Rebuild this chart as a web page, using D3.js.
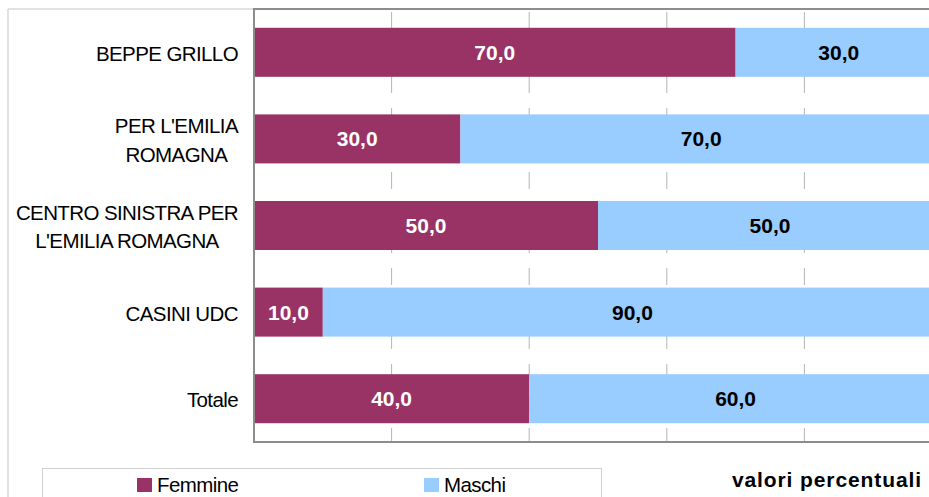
<!DOCTYPE html>
<html>
<head>
<meta charset="utf-8">
<script src="https://cdn.jsdelivr.net/npm/d3@7"></script>
<style>
  body { margin:0; background:#fff; }
  svg { display:block; font-family:"Liberation Sans", Arial, sans-serif; }
</style>
</head>
<body>
<script>
const categories = [
  ["BEPPE GRILLO"],
  ["PER L'EMILIA", "ROMAGNA"],
  ["CENTRO SINISTRA PER", "L'EMILIA ROMAGNA"],
  ["CASINI UDC"],
  ["Totale"]
];
const femmine = [70.0, 30.0, 50.0, 10.0, 40.0];
const maschi  = [30.0, 70.0, 50.0, 90.0, 60.0];
const gridTicks = [20, 40, 60, 80, 100];
const seriesNames = ["Femmine", "Maschi"];
const colors = ["#993366", "#99ccff"];

const w = 929, h = 497;
const svg = d3.select("body").append("svg")
  .attr("width", w).attr("height", h);

const keys = categories.map(d => d.join(" "));
const x = d3.scaleLinear().domain([0, 100]).range([254, 942]);
const y = d3.scaleBand().domain(keys).range([9, 442])
  .paddingInner(0.434).paddingOuter(0.217);

// outer chart frame
svg.append("path")
  .attr("d", "M8,497V9H929")
  .attr("fill", "none").attr("stroke", "#c4c4c4").attr("stroke-width", 1);

// gridlines
svg.selectAll("line.grid")
  .data(gridTicks)
  .enter()
  .append("line")
  .attr("class", "grid")
  .attr("x1", d => x(d)).attr("x2", d => x(d))
  .attr("y1", 9).attr("y2", 442)
  .attr("stroke", "#b4b4b4").attr("stroke-width", 1)
  .attr("stroke-dasharray", "17,15")
  .attr("stroke-dashoffset", 29);

// stacked bars
const rows = keys.map((k, i) => ({key: k, f: femmine[i], m: maschi[i]}));
const stack = d3.stack().keys(["f", "m"])(rows);

stack.forEach(function(layer, li) {
  svg.append("g").selectAll("rect")
    .data(layer)
    .enter()
    .append("rect")
    .attr("x", d => x(d[0]))
    .attr("width", d => x(d[1]) - x(d[0]))
    .attr("y", d => y(d.data.key))
    .attr("height", y.bandwidth())
    .attr("fill", colors[li]);

  svg.append("g").selectAll("text")
    .data(layer)
    .enter()
    .append("text")
    .attr("x", d => (x(d[0]) + x(d[1])) / 2)
    .attr("y", d => y(d.data.key) + y.bandwidth() / 2 + 7.5)
    .attr("text-anchor", "middle")
    .attr("font-size", "21px")
    .attr("font-weight", "bold")
    .attr("fill", li === 0 ? "#fff" : "#000")
    .text(d => d3.format(".1f")(d[1] - d[0]).replace(".", ","));
});

// plot frame
svg.append("path")
  .attr("d", "M929,9H254V442H929")
  .attr("fill", "none").attr("stroke", "#8c8c8c").attr("stroke-width", 2);

// category labels
const labels = svg.append("g").attr("font-size", "20.5px")
  .attr("letter-spacing", "-0.6px").attr("fill", "#000");
categories.forEach(function(lines, i) {
  const cy = y(keys[i]) + y.bandwidth() / 2;
  const g = labels.append("g");
  const txt = g.selectAll("text")
    .data(lines)
    .enter()
    .append("text")
    .attr("y", (d, j) => cy + 8.5 + (j - (lines.length - 1) / 2) * 28.5)
    .attr("text-anchor", "middle")
    .text(d => d);
  let maxW = 0;
  txt.each(function() { maxW = Math.max(maxW, this.getComputedTextLength()); });
  txt.attr("x", 238 - maxW / 2);
});

// legend
svg.append("rect")
  .attr("x", 42.5).attr("y", 468.5).attr("width", 559).attr("height", 40)
  .attr("fill", "#fff").attr("stroke", "#d0d0d0");

const legX = [137, 424];
seriesNames.forEach(function(name, i) {
  svg.append("rect")
    .attr("x", legX[i]).attr("y", 478).attr("width", 15).attr("height", 14)
    .attr("fill", colors[i]);
  svg.append("text")
    .attr("x", legX[i] + 20).attr("y", 492)
    .attr("font-size", "20.5px")
    .attr("letter-spacing", "-0.6px")
    .text(name);
});

svg.append("text")
  .attr("x", 922).attr("y", 487)
  .attr("text-anchor", "end")
  .attr("font-size", "21px")
  .attr("font-weight", "bold")
  .attr("letter-spacing", "0.9px")
  .text("valori percentuali");
</script>
</body>
</html>
